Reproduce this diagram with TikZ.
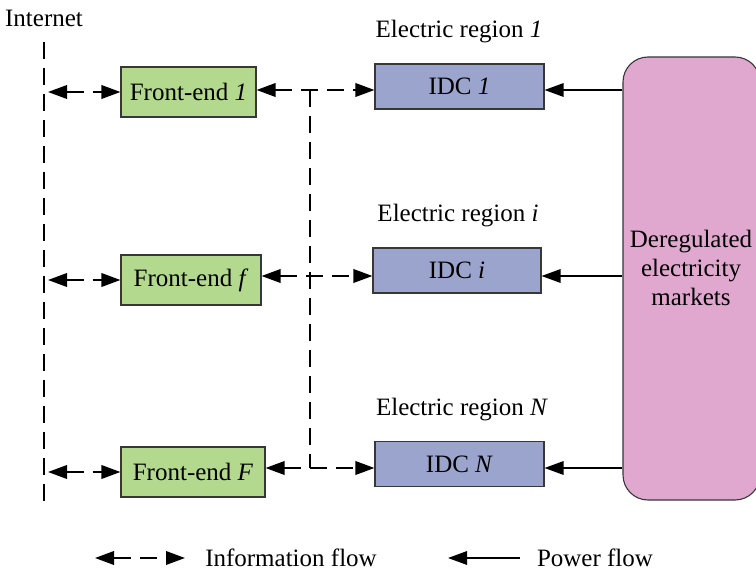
\documentclass[tikz,border=0pt]{standalone}
\usepackage{fontspec}
\setmainfont{Liberation Serif}
\usetikzlibrary{arrows.meta}

\definecolor{feGreen}{RGB}{179,217,143}
\definecolor{idcBlue}{RGB}{155,164,204}
\definecolor{mktPink}{RGB}{224,168,206}
\definecolor{edgeGray}{RGB}{55,55,55}

\begin{document}
\begin{tikzpicture}[x=1pt,y=-1pt,
  font=\fontsize{25}{29}\selectfont,
  tip/.tip={Triangle[length=19pt,width=13.5pt]},
  box/.style={draw=edgeGray, line width=1.1pt, inner sep=0pt},
  fe/.style={box, fill=feGreen, minimum height=50pt},
  idc/.style={box, fill=idcBlue, minimum width=169pt, minimum height=45pt},
  dashline/.style={line width=2pt, dash pattern=on 17pt off 9pt},
  info/.style={dashline, tip-tip},
  power/.style={line width=1.6pt, -tip},
  lbl/.style={inner sep=0pt}
]
\useasboundingbox (0,0) rectangle (756,572);
\clip (0,0) rectangle (756,572);

% Internet backbone
\node[lbl] (inet) at (44,18) {Internet};
\coordinate (netTop) at (44,42);
\coordinate (netBot) at (44,507);
\draw[dashline] (netTop) -- (netBot);
\coordinate (net) at (48,0);

% Front-end servers
\node[fe, minimum width=135pt] (fe1) at (188.5,92) {Front-end \textit{1}};
\node[fe, minimum width=140pt] (fef) at (191,280) {Front-end \textit{f}};
\node[fe, minimum width=144pt] (feF) at (193,472) {Front-end \textit{F}};

% Data centres in their electric regions
\node[lbl] (reg1) at (459,32) {Electric region \textit{1}};
\node[lbl] (regi) at (458,216) {Electric region \textit{i}};
\node[lbl] (regN) at (462,410) {Electric region \textit{N}};
\node[idc] (idc1) at (459.5,86.5) {IDC \textit{1}};
\node[idc, minimum width=168pt] (idci) at (457,270.5) {IDC \textit{i}};
\node[idc] (idcN) at (459.5,464) {IDC \textit{N}};

% Electricity market
\node[box, fill=mktPink, rounded corners=25pt, minimum width=137pt,
      minimum height=443pt] (mkt) at (691.5,278.5) {};
\node[lbl, align=center] (mktText) at (691,268)
  {Deregulated\\electricity\\markets};

% Row levels of the flows
\coordinate (r1) at (0,90);
\coordinate (r2) at (0,276);
\coordinate (r3) at (0,468);
\coordinate (bus) at (310,0);

% Information flows
\draw[info] (net |- fe1.west) -- (fe1.west);
\draw[info] (net |- fef.west) -- (fef.west);
\draw[info] (net |- feF.west) -- (feF.west);
\draw[info] (fe1.east |- r1) -- (idc1.west |- r1);
\draw[info] (fef.east |- r2) -- (idci.west |- r2);
\draw[info] (feF.east |- r3) -- (idcN.west |- r3);
\draw[dashline] (bus |- r1) -- (bus |- r3);

% Power flows
\draw[power] (mkt.west |- r1) -- (idc1.east |- r1);
\draw[power] (mkt.west |- r2) -- (idci.east |- r2);
\draw[power] (mkt.west |- r3) -- (idcN.east |- r3);

% Legend
\coordinate (lgInfoA) at (95,558);
\coordinate (lgInfoB) at (185,558);
\draw[info] (lgInfoA) -- (lgInfoB);
\node[lbl] (lgInfo) at (291,558) {Information flow};
\coordinate (lgPowA) at (520,558);
\coordinate (lgPowB) at (448,558);
\draw[power] (lgPowA) -- (lgPowB);
\node[lbl] (lgPow) at (595,558) {Power flow};
\end{tikzpicture}
\end{document}
